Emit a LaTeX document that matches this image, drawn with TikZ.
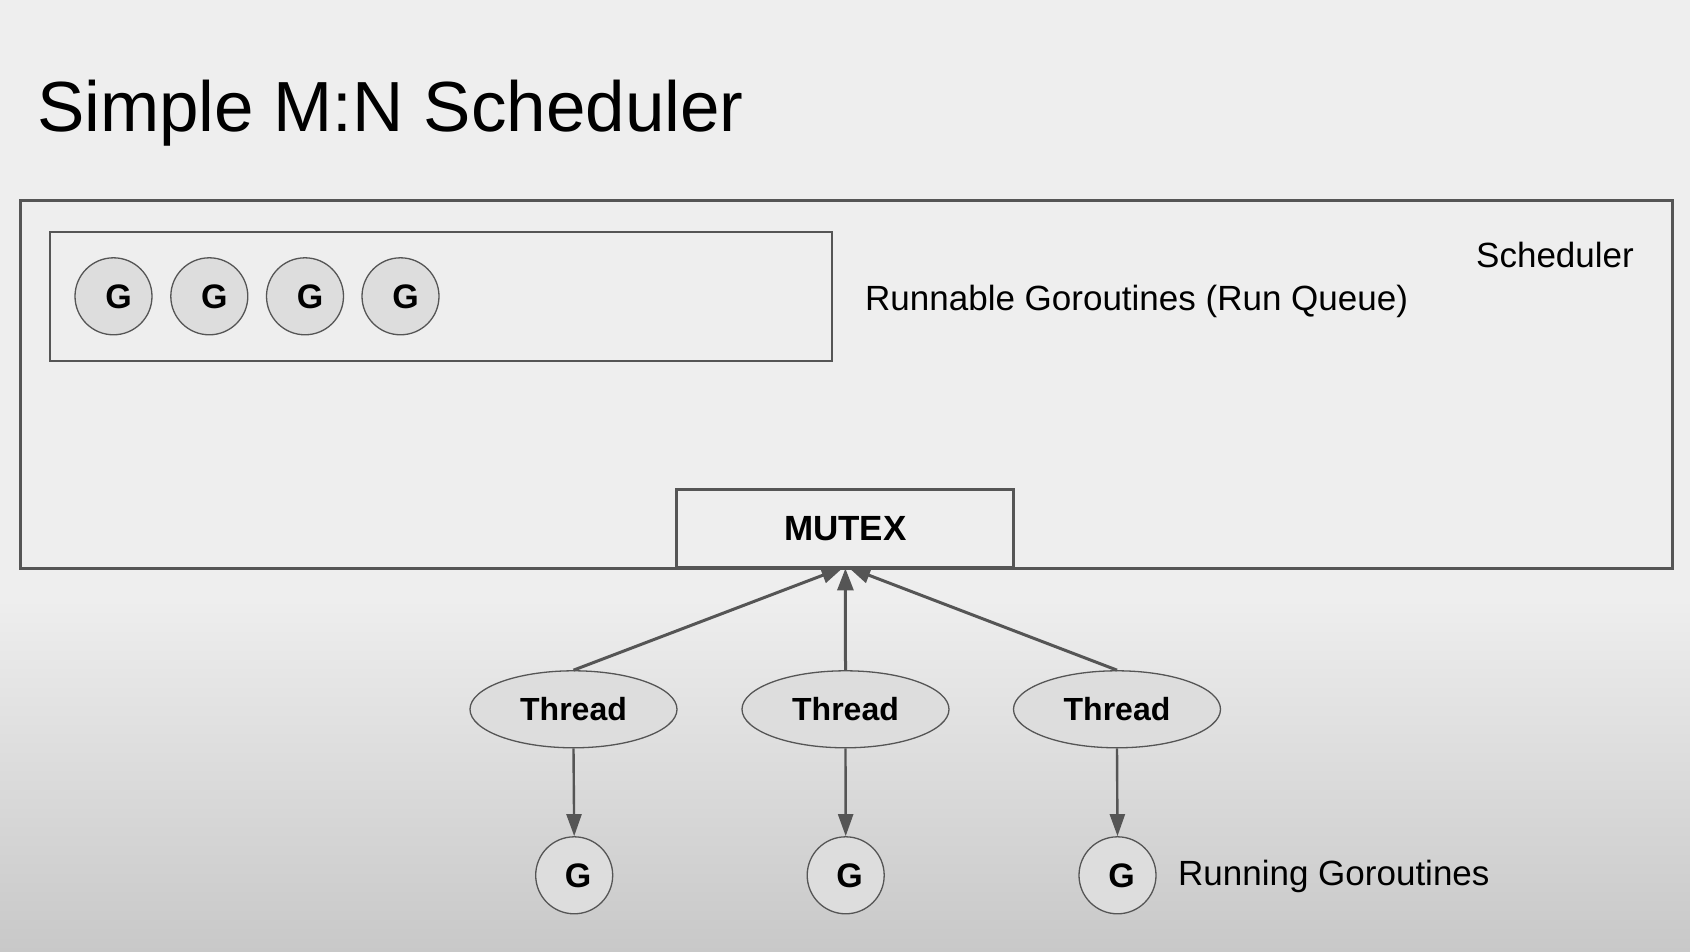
\documentclass[tikz,border=0pt]{standalone}
\usepackage{fontspec}
\setmainfont{Liberation Sans}
\usetikzlibrary{arrows.meta,shapes.geometric}
\definecolor{bgtop}{HTML}{EEEEEE}
\definecolor{bgbot}{HTML}{C8C8C8}
\definecolor{edge}{HTML}{555555}
\definecolor{gfill}{HTML}{DDDDDD}
\begin{document}
\begin{tikzpicture}[x=1pt,y=-1pt,
  lbl/.style={inner sep=0pt,anchor=base west,font=\fontsize{35}{42}\selectfont},
  frame/.style={draw=edge,line width=3pt,inner sep=0pt},
  gor/.style={circle,draw=edge,fill=gfill,line width=1.3pt,minimum size=77pt,inner sep=0pt,
    font=\bfseries\fontsize{34}{40}\selectfont},
  thread/.style={ellipse,draw=edge,fill=gfill,line width=1.3pt,minimum width=207pt,
    minimum height=77pt,inner sep=0pt,font=\bfseries\fontsize{32}{38}\selectfont},
  link/.style={draw=edge,line width=3pt,-{Triangle[length=22pt,width=16pt]}},
  run/.style={draw=edge,line width=2.4pt,-{Triangle[length=22pt,width=15pt]}}]

% page background: flat grey above, darkening toward the bottom
\useasboundingbox (0,0) rectangle (1690,952);
\fill[bgtop] (0,0) rectangle (1690,600);
\shade[top color=bgtop,bottom color=bgbot] (0,599) rectangle (1690,952);

% title
\node[lbl,font=\fontsize{71}{80}\selectfont] (title) at (37,132) {Simple M:N Scheduler};

% scheduler frame and run queue
\node[frame,minimum width=1652pt,minimum height=367pt] (sched) at (846,384.5) {};
\node[lbl] (schedlbl) at (1476,268) {Scheduler};
\node[frame,line width=2pt,fill=bgtop,minimum width=782pt,minimum height=129pt] (queue) at (441,296.3) {};
\node[lbl] (queuelbl) at (865,310) {Runnable Goroutines (Run Queue)};

\node[gor] (q1) at (113.5,296.3) {\kern10pt G};
\node[gor] (q2) at (209.3,296.3) {\kern10pt G};
\node[gor] (q3) at (305,296.3) {\kern10pt G};
\node[gor] (q4) at (400.5,296.3) {\kern10pt G};

% mutex
\node[frame,fill=bgtop,minimum width=337pt,minimum height=78pt,
  font=\bfseries\fontsize{35}{42}\selectfont] (mutex) at (845.4,528.9) {MUTEX};

% threads
\node[thread] (t1) at (573.5,709.3) {Thread};
\node[thread] (t2) at (845.5,709.3) {Thread};
\node[thread] (t3) at (1117,709.3) {Thread};

% running goroutines
\node[gor] (r1) at (574.2,875.3) {\kern8pt G};
\node[gor] (r2) at (845.7,875.3) {\kern8pt G};
\node[gor] (r3) at (1117.5,875.3) {\kern8pt G};
\node[lbl] (runlbl) at (1178,885.7) {Running Goroutines};

% threads contend for the mutex
\draw[link] (t1.north) -- ([xshift=-2pt,yshift=2pt]mutex.south);
\draw[link] (t2.north) -- ([yshift=1pt]mutex.south);
\draw[link] (t3.north) -- ([xshift=3pt,yshift=2pt]mutex.south);

% each thread runs one goroutine
\draw[run] (t1.south) -- (r1.north);
\draw[run] (t2.south) -- (r2.north);
\draw[run] (t3.south) -- (r3.north);
\end{tikzpicture}
\end{document}
